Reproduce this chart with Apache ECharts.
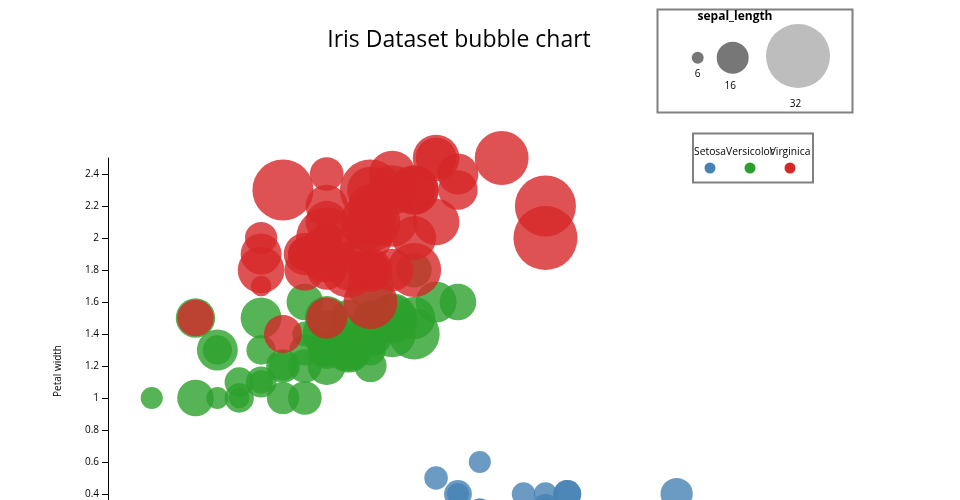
<!DOCTYPE html>
<html>
<head>
<meta charset="utf-8">
<script src="https://cdn.jsdelivr.net/npm/echarts@6/dist/echarts.min.js"></script>
<style>html,body{margin:0;padding:0;background:#fff;}#chart{width:960px;height:500px;}</style>
</head>
<body>
<div id="chart"></div>
<script>
// Iris data: sepal length, sepal width, petal width per species
var setosaSepalLength = [5.1,4.9,4.7,4.6,5.0,5.4,4.6,5.0,4.4,4.9,5.4,4.8,4.8,4.3,5.8,5.7,5.4,5.1,5.7,5.1,5.4,5.1,4.6,5.1,4.8,5.0,5.0,5.2,5.2,4.7,4.8,5.4,5.2,5.5,4.9,5.0,5.5,4.9,4.4,5.1,5.0,4.5,4.4,5.0,5.1,4.8,5.1,4.6,5.3,5.0];
var setosaSepalWidth  = [3.5,3.0,3.2,3.1,3.6,3.9,3.4,3.4,2.9,3.1,3.7,3.4,3.0,3.0,4.0,4.4,3.9,3.5,3.8,3.8,3.4,3.7,3.6,3.3,3.4,3.0,3.4,3.5,3.4,3.2,3.1,3.4,4.1,4.2,3.1,3.2,3.5,3.6,3.0,3.4,3.5,2.3,3.2,3.5,3.8,3.0,3.8,3.2,3.7,3.3];
var setosaPetalWidth  = [0.2,0.2,0.2,0.2,0.2,0.4,0.3,0.2,0.2,0.1,0.2,0.2,0.1,0.1,0.2,0.4,0.4,0.3,0.3,0.3,0.2,0.4,0.2,0.5,0.2,0.2,0.4,0.2,0.2,0.2,0.2,0.4,0.1,0.2,0.2,0.2,0.2,0.1,0.2,0.2,0.3,0.3,0.2,0.6,0.4,0.3,0.2,0.2,0.2,0.2];

var versicolorSepalLength = [7.0,6.4,6.9,5.5,6.5,5.7,6.3,4.9,6.6,5.2,5.0,5.9,6.0,6.1,5.6,6.7,5.6,5.8,6.2,5.6,5.9,6.1,6.3,6.1,6.4,6.6,6.8,6.7,6.0,5.7,5.5,5.5,5.8,6.0,5.4,6.0,6.7,6.3,5.6,5.5,5.5,6.1,5.8,5.0,5.6,5.7,5.7,6.2,5.1,5.7];
var versicolorSepalWidth  = [3.2,3.2,3.1,2.3,2.8,2.8,3.3,2.4,2.9,2.7,2.0,3.0,2.2,2.9,2.9,3.1,3.0,2.7,2.2,2.5,3.2,2.8,2.5,2.8,2.9,3.0,2.8,3.0,2.9,2.6,2.4,2.4,2.7,2.7,3.0,3.4,3.1,2.3,3.0,2.5,2.6,3.0,2.6,2.3,2.7,3.0,2.9,2.9,2.5,2.8];
var versicolorPetalWidth  = [1.4,1.5,1.5,1.3,1.5,1.3,1.6,1.0,1.3,1.4,1.0,1.5,1.0,1.4,1.3,1.4,1.5,1.0,1.5,1.1,1.8,1.3,1.5,1.2,1.3,1.4,1.4,1.7,1.5,1.0,1.1,1.0,1.2,1.6,1.5,1.6,1.5,1.3,1.3,1.3,1.2,1.4,1.2,1.0,1.3,1.2,1.3,1.3,1.1,1.3];

var virginicaSepalLength = [6.3,5.8,7.1,6.3,6.5,7.6,4.9,7.3,6.7,7.2,6.5,6.4,6.8,5.7,5.8,6.4,6.5,7.7,7.7,6.0,6.9,5.6,7.7,6.3,6.7,7.2,6.2,6.1,6.4,7.2,7.4,7.9,6.4,6.3,6.1,7.7,6.3,6.4,6.0,6.9,6.7,6.9,5.8,6.8,6.7,6.7,6.3,6.5,6.2,5.9];
var virginicaSepalWidth  = [3.3,2.7,3.0,2.9,3.0,3.0,2.5,2.9,2.5,3.6,3.2,2.7,3.0,2.5,2.8,3.2,3.0,3.8,2.6,2.2,3.2,2.8,2.8,2.7,3.3,3.2,2.8,3.0,2.8,3.0,2.8,3.8,2.8,2.8,2.6,3.0,3.4,3.1,3.0,3.1,3.1,3.1,2.7,3.2,3.3,3.0,2.5,3.0,3.4,3.0];
var virginicaPetalWidth  = [2.5,1.9,2.1,1.8,2.2,2.1,1.7,1.8,1.8,2.5,2.0,1.9,2.1,2.0,2.4,2.3,1.8,2.2,2.3,1.5,2.3,2.0,2.0,1.8,2.1,1.8,1.8,1.8,2.1,1.6,1.9,2.0,2.2,1.5,1.4,2.3,2.4,1.8,1.8,2.1,2.4,2.3,1.9,2.3,2.5,2.3,1.9,2.0,2.3,1.8];

var speciesNames = ['Setosa', 'Versicolor', 'Virginica'];
var yTickInterval = 0.2;
var sizeLegendValues = [6, 16, 32];
var sizeLegendTitle = 'sepal_length';
var chartTitle = 'Iris Dataset bubble chart';
var yAxisTitle = 'Petal width';

var colors = ['#4682b4', '#2ca02c', '#d62728'];
var FONT = '"Open Sans", "Noto Sans", sans-serif';

function radius(sl) { return 6 + (sl - 4.3) * 26 / 3.6; }
function build(sl, sw, pw) {
  var out = [];
  for (var i = 0; i < sl.length; i++) out.push([sw[i], pw[i], sl[i]]);
  return out;
}
var seriesData = [
  build(setosaSepalLength, setosaSepalWidth, setosaPetalWidth),
  build(versicolorSepalLength, versicolorSepalWidth, versicolorPetalWidth),
  build(virginicaSepalLength, virginicaSepalWidth, virginicaPetalWidth)
];

var series = speciesNames.map(function (name, k) {
  return {
    name: name,
    type: 'scatter',
    data: seriesData[k],
    clip: false,
    symbolSize: function (d) { return 2 * radius(d[2]); },
    itemStyle: { color: colors[k], opacity: 0.8 },
    emphasis: { disabled: true }
  };
});

// size legend graphics
var sizeCircles = [
  { cx: 697.7, cy: 57.7, ly: 74, color: '#777777' },
  { cx: 732.7, cy: 57.7, ly: 86, color: '#777777' },
  { cx: 798, cy: 56, ly: 104, color: '#bdbdbd' }
];
var graphics = [
  { type: 'text', x: 459, y: 40, style: { text: chartTitle, font: '23px ' + FONT, fill: '#000', align: 'center', verticalAlign: 'middle' } },
  { type: 'text', x: 58, y: 371, rotation: Math.PI / 2, style: { text: yAxisTitle, font: '10px ' + FONT, fill: '#000', align: 'center', verticalAlign: 'middle' } },
  { type: 'rect', shape: { x: 657.5, y: 9.5, width: 195, height: 103 }, style: { fill: 'none', stroke: '#808080', lineWidth: 2 } },
  { type: 'text', x: 735, y: 16.5, style: { text: sizeLegendTitle, font: 'bold 12px ' + FONT, fill: '#000', align: 'center', verticalAlign: 'middle' } },
  { type: 'rect', shape: { x: 693, y: 133.5, width: 120, height: 49 }, style: { fill: 'none', stroke: '#808080', lineWidth: 2 } }
];
sizeLegendValues.forEach(function (v, i) {
  var c = sizeCircles[i];
  graphics.push({ type: 'circle', shape: { cx: c.cx, cy: c.cy, r: v }, style: { fill: c.color } });
  graphics.push({ type: 'text', x: c.cx - (i === 0 ? 0 : 2.5), y: c.ly, style: { text: String(v), font: '10px ' + FONT, fill: '#000', align: 'center', verticalAlign: 'middle' } });
});
speciesNames.forEach(function (name, k) {
  var cx = 710 + 40 * k;
  graphics.push({ type: 'text', x: cx, y: 152, style: { text: name, font: '10.3px ' + FONT, fill: '#000', align: 'center', verticalAlign: 'middle' } });
  graphics.push({ type: 'circle', shape: { cx: cx, cy: 168, r: 5.5 }, style: { fill: colors[k] } });
});

var chart = echarts.init(document.getElementById('chart'), null, { renderer: 'canvas' });
chart.setOption({
  animation: false,
  backgroundColor: '#fff',
  grid: { left: 108, top: 158, width: 612.4, height: 400, containLabel: false, outerBoundsMode: 'none' },
  xAxis: {
    type: 'value', min: 1.8, max: 4.6, splitLine: { show: false },
    axisLine: { lineStyle: { color: '#000' } },
    axisLabel: { color: '#000', fontFamily: FONT, fontSize: 10 }
  },
  yAxis: {
    type: 'value', min: 0, max: 2.5, interval: yTickInterval,
    splitLine: { show: false },
    axisLine: { show: true, lineStyle: { color: '#000', width: 1 } },
    axisTick: { show: true, inside: false, length: 6, lineStyle: { color: '#000' } },
    axisLabel: { color: '#000', fontFamily: FONT, fontSize: 10, margin: 9, showMaxLabel: false }
  },
  series: series,
  graphic: graphics
});
</script>
</body>
</html>
